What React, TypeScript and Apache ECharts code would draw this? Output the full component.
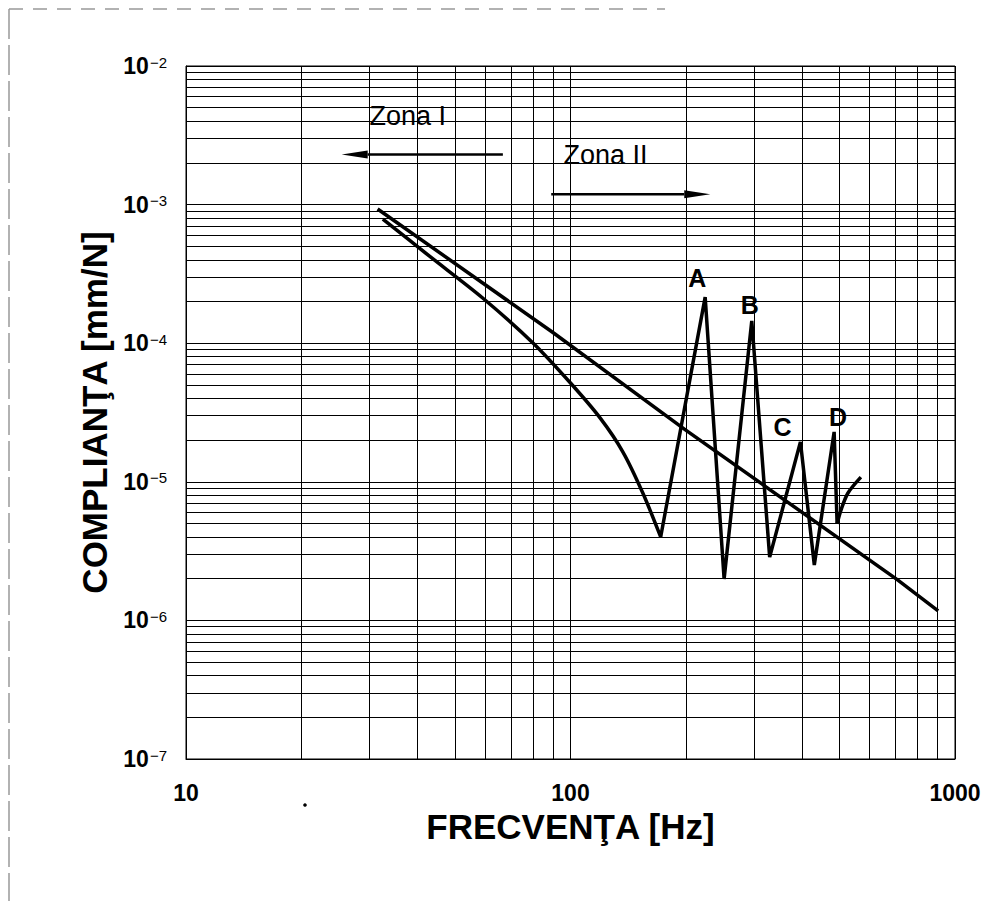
import React, { useEffect, useRef } from "react";
import * as echarts from "echarts";

// Straight reference line (upper)
const upperFreq = [31.5, 90.2, 199, 709, 904];
const upperComp = [9.3e-4, 1.19e-4, 2.37e-5, 1.96e-6, 1.17e-6];

// Measured compliance curve (lower): smooth descending part
const lowerDescFreq = [32.5, 42.9, 59.1, 80.0, 100, 119.5, 136.9, 154.2, 171.6];
const lowerDescComp = [7.87e-4, 4.26e-4, 2.12e-4, 1.0e-4, 5.16e-5, 2.88e-5, 1.64e-5, 8.3e-6, 4.0e-6];
// resonance zig-zag (peaks A, B, C, D)
const lowerResFreq = [171.6, 224, 250.9, 296.1, 329.6, 396.3, 430.6, 484.9, 493.6];
const lowerResComp = [4.0e-6, 2.15e-4, 1.99e-6, 1.45e-4, 2.86e-6, 1.94e-5, 2.51e-6, 2.29e-5, 4.97e-6];
// final hook
const lowerTailFreq = [493.6, 505.4, 526.8, 569.2];
const lowerTailComp = [4.97e-6, 6.27e-6, 8.3e-6, 1.08e-5];

// Peak labels
const peakText = ["A", "B", "C", "D"];
const peakFreq = [213.8, 292.7, 356, 496.5];
const peakComp = [2.95e-4, 1.89e-4, 2.49e-5, 2.93e-5];

// Zone labels and arrows
const zoneText = ["Zona I", "Zona II"];
const zoneTextFreq = [30.0, 95.9];
const zoneTextComp = [4.36e-3, 2.28e-3];
const arrowTailFreq = [66.7, 89.1];
const arrowTipFreq = [25.4, 230.9];
const arrowComp = [2.3e-3, 1.19e-3];

// Grid ticks
const xMinorTicks = [20, 30, 40, 50, 60, 70, 80, 90, 200, 300, 400, 500, 600, 700, 800, 900];
const mantissas = [2, 3, 4, 5, 6, 7, 8, 9];
const yDecades = [-7, -6, -5, -4, -3];
const xMin = 10;
const xMax = 1000;
const yMin = 1e-7;
const yMax = 1e-2;

const FONT = '"Liberation Sans", Arial, Helvetica, sans-serif';

export default function App() {
  const ref = useRef<HTMLDivElement>(null);

  useEffect(() => {
    const chart = echarts.init(ref.current!, null, { renderer: "svg" });

    const yMinorTicks: number[] = [];
    yDecades.forEach((d) => mantissas.forEach((m) => yMinorTicks.push(m * Math.pow(10, d))));

    const gridLineData: any[] = [
      ...xMinorTicks.map((v) => [{ coord: [v, yMin] }, { coord: [v, yMax] }]),
      ...yMinorTicks.map((v) => [{ coord: [xMin, v] }, { coord: [xMax, v] }]),
    ];

    const curveStyle = { color: "#000", width: 3.5, join: "miter" };

    chart.setOption({
      animation: false,
      backgroundColor: "#ffffff",
      textStyle: { fontFamily: FONT, color: "#000" },
      grid: {
        left: 186,
        top: 66,
        width: 769,
        height: 693,
        show: true,
        borderColor: "#000",
        borderWidth: 1,
        containLabel: false,
        outerBoundsMode: "none",
      },
      xAxis: {
        type: "log",
        logBase: 10,
        min: xMin,
        max: xMax,
        name: "FRECVENŢA [Hz]",
        nameLocation: "middle",
        nameGap: 50,
        nameTextStyle: { fontSize: 35, fontWeight: "bold", color: "#000", fontFamily: FONT },
        axisLine: { show: true, lineStyle: { color: "#000", width: 1 } },
        axisTick: { show: false },
        minorTick: { show: false },
        axisLabel: {
          fontSize: 23,
          fontWeight: "bold",
          color: "#000",
          fontFamily: FONT,
          margin: 22,
          formatter: (v: number) => String(Math.round(v)),
        },
        splitLine: { show: true, lineStyle: { color: "#000", width: 1 } },
      },
      yAxis: {
        type: "log",
        logBase: 10,
        min: yMin,
        max: yMax,
        name: "COMPLIANŢA [mm/N]",
        nameLocation: "middle",
        nameGap: 70,
        nameTextStyle: { fontSize: 35, fontWeight: "bold", color: "#000", fontFamily: FONT },
        axisLine: { show: true, lineStyle: { color: "#000", width: 1 } },
        axisTick: { show: false },
        minorTick: { show: false },
        axisLabel: {
          margin: 19,
          color: "#000",
          formatter: (v: number) => {
            const e = Math.round(Math.log10(v));
            return "{b|10}{s|−" + String(-e) + "}";
          },
          rich: {
            b: { fontSize: 23, fontWeight: "bold", fontFamily: FONT, color: "#000", lineHeight: 23, verticalAlign: "bottom" },
            s: { fontSize: 15, fontFamily: FONT, color: "#000", lineHeight: 15, padding: [0, 0, 16, 1], verticalAlign: "top" },
          },
        },
        splitLine: { show: true, lineStyle: { color: "#000", width: 1 } },
      },
      graphic: [
        { type: "line", shape: { x1: 9, y1: 9, x2: 9, y2: 901 }, style: { stroke: "#999", lineWidth: 1.5, lineDash: [30, 6] }, silent: true },
        { type: "line", shape: { x1: 9, y1: 9, x2: 665, y2: 9 }, style: { stroke: "#999", lineWidth: 1.5, lineDash: [14, 10] }, silent: true },
        { type: "circle", shape: { cx: 305, cy: 805, r: 1.8 }, style: { fill: "#000" }, silent: true },
      ],
      series: [
        {
          name: "grid",
          type: "line",
          data: [[xMin, yMin]],
          symbol: "none",
          lineStyle: { opacity: 0 },
          silent: true,
          z: 1,
          markLine: {
            silent: true,
            z: 1,
            symbol: ["none", "none"],
            label: { show: false },
            lineStyle: { color: "#000", width: 1, type: "solid" },
            emphasis: { disabled: true },
            data: gridLineData,
          },
        },
        {
          name: "upper",
          type: "line",
          data: upperFreq.map((f, i) => [f, upperComp[i]]),
          symbol: "none",
          smooth: false,
          lineStyle: curveStyle,
          z: 3,
        },
        {
          name: "lowerDesc",
          type: "line",
          data: lowerDescFreq.map((f, i) => [f, lowerDescComp[i]]),
          symbol: "none",
          smooth: 0.3,
          lineStyle: curveStyle,
          z: 3,
        },
        {
          name: "lowerRes",
          type: "line",
          data: lowerResFreq.map((f, i) => [f, lowerResComp[i]]),
          symbol: "none",
          smooth: false,
          lineStyle: curveStyle,
          z: 3,
        },
        {
          name: "lowerTail",
          type: "line",
          data: lowerTailFreq.map((f, i) => [f, lowerTailComp[i]]),
          symbol: "none",
          smooth: 0.3,
          lineStyle: curveStyle,
          z: 3,
        },
        {
          name: "arrows",
          type: "custom",
          z: 4,
          silent: true,
          data: arrowTailFreq.map((t, i) => [t, arrowComp[i], arrowTipFreq[i]]),
          encode: { x: 0, y: 1 },
          renderItem: (params: any, api: any) => {
            const tail = api.coord([api.value(0), api.value(1)]);
            const tip = api.coord([api.value(2), api.value(1)]);
            const dir = tip[0] > tail[0] ? 1 : -1;
            const L = 26;
            const W = 4;
            return {
              type: "group",
              children: [
                {
                  type: "line",
                  shape: { x1: tail[0], y1: tail[1], x2: tip[0] - dir * L, y2: tip[1] },
                  style: { stroke: "#000", lineWidth: 2.5 },
                },
                {
                  type: "polygon",
                  shape: { points: [[tip[0], tip[1]], [tip[0] - dir * L, tip[1] - W], [tip[0] - dir * L, tip[1] + W]] },
                  style: { fill: "#000" },
                },
              ],
            };
          },
        },
        {
          name: "peakLabels",
          type: "custom",
          z: 4,
          silent: true,
          data: peakFreq.map((f, i) => [f, peakComp[i], i]),
          encode: { x: 0, y: 1 },
          renderItem: (params: any, api: any) => {
            const p = api.coord([api.value(0), api.value(1)]);
            return {
              type: "text",
              x: p[0],
              y: p[1],
              style: {
                text: peakText[api.value(2)],
                fontSize: 25,
                fontWeight: "bold",
                fontFamily: FONT,
                fill: "#000",
                align: "center",
                verticalAlign: "middle",
              },
            };
          },
        },
        {
          name: "zoneLabels",
          type: "custom",
          z: 4,
          silent: true,
          data: zoneTextFreq.map((f, i) => [f, zoneTextComp[i], i]),
          encode: { x: 0, y: 1 },
          renderItem: (params: any, api: any) => {
            const p = api.coord([api.value(0), api.value(1)]);
            return {
              type: "text",
              x: p[0],
              y: p[1],
              style: {
                text: zoneText[api.value(2)],
                fontSize: 27,
                fontFamily: FONT,
                fill: "#000",
                align: "left",
                verticalAlign: "middle",
              },
            };
          },
        },
      ],
    });

    return () => chart.dispose();
  }, []);

  return (
    <div
      ref={ref}
      style={{ position: "fixed", left: 0, top: 0, width: 1005, height: 901, background: "#fff" }}
    />
  );
}
